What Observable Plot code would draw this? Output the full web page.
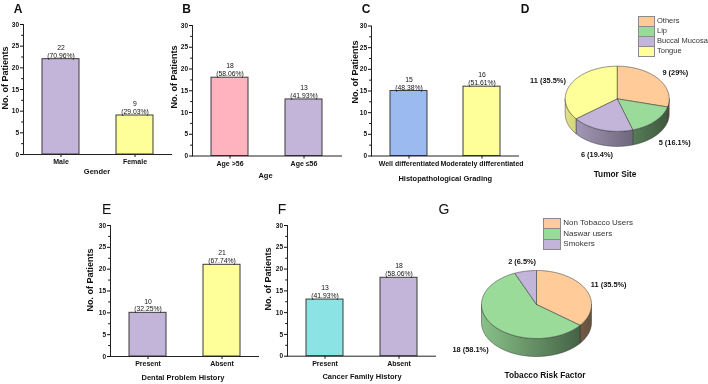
<!DOCTYPE html>
<html><head><meta charset="utf-8">
<script src="https://cdn.jsdelivr.net/npm/d3@7"></script>
<script src="https://cdn.jsdelivr.net/npm/@observablehq/plot@0.6"></script>
<style>
body{margin:0;background:#fff;font-family:"Liberation Sans",Arial,sans-serif;}
#root{position:relative;width:708px;height:384px;overflow:hidden;will-change:transform;-webkit-font-smoothing:antialiased;}
.abs{position:absolute;white-space:nowrap;color:#111;line-height:1;}
</style></head><body><div id="root"></div>
<script>
// ---------- data ----------
const genderCats = ["Male", "Female"];
const genderVals = [22, 9];
const genderPct = ["70.96%", "29.03%"];
const ageCats = ["Age >56", "Age ≤56"];
const ageVals = [18, 13];
const agePct = ["58.06%", "41.93%"];
const gradeCats = ["Well differentiated", "Moderately differentiated"];
const gradeVals = [15, 16];
const gradePct = ["48.38%", "51.61%"];
const dentalCats = ["Present", "Absent"];
const dentalVals = [10, 21];
const dentalPct = ["32.25%", "67.74%"];
const cancerCats = ["Present", "Absent"];
const cancerVals = [13, 18];
const cancerPct = ["41.93%", "58.06%"];
const tumorSites = ["Others", "Lip", "Buccal Mucosa", "Tongue"];
const tumorVals = [9, 5, 6, 11];
const tumorPct = ["29%", "16.1%", "19.4%", "35.5%"];
const tobaccoCats = ["Non Tobacco Users", "Naswar users", "Smokers"];
const tobaccoVals = [11, 18, 2];
const tobaccoPct = ["35.5%", "58.1%", "6.5%"];
const yTicks = [0, 5, 10, 15, 20, 25, 30];
const yMinorTicks = [2.5, 7.5, 12.5, 17.5, 22.5, 27.5];

// ---------- style ----------
const FONT = "Liberation Sans, Arial, sans-serif";
const C = {purple:"#C3B5DA", yellow:"#FFFF99", pink:"#FFB3BE", blue:"#9BBAF0", cyan:"#8CE3E3", orange:"#FFCC99", green:"#9ADB9A"};
const root = document.getElementById("root");

function addText(txt, x, y, css, rotate) {
  const d = document.createElement("div");
  d.className = "abs";
  d.textContent = txt;
  d.style.left = x + "px";
  d.style.top = y + "px";
  d.style.transform = "translate(-50%,-50%)" + (rotate ? " rotate(-90deg)" : "");
  Object.assign(d.style, css);
  root.appendChild(d);
}

function place(svg, L, T) {
  svg.style.position = "absolute";
  svg.style.left = L + "px";
  svg.style.top = T + "px";
  root.appendChild(svg);
}

function barPanel(cfg) {
  const {L, T, W, H, ax, ae, y30, y0, cats, vals, pct, colors} = cfg;
  const data = cats.map((c, i) => ({cat: c, val: vals[i], lab: `${vals[i]}\n(${pct[i]})`, color: colors[i]}));
  const svg = Plot.plot({
    width: W, height: H,
    marginLeft: ax - L, marginRight: L + W - ae, marginTop: y30 - T, marginBottom: T + H - y0,
    style: {fontFamily: FONT, fontSize: "7px", fontWeight: "bold", color: "#111", background: "transparent", overflow: "visible"},
    x: {domain: cats, paddingInner: 0.5, paddingOuter: 0.25},
    y: {domain: [0, 30]},
    color: {type: "identity"},
    marks: [
      Plot.barY(data, {x: "cat", y: "val", fill: "color", stroke: "#3a3a3a", strokeWidth: 1}),
      Plot.text(data, {x: "cat", y: "val", text: "lab", lineAnchor: "bottom", dy: -1.5, fontSize: 6.8, fontWeight: "normal", lineHeight: 1.15, fill: "#111"}),
      Plot.axisY({ticks: yTicks, tickSize: 3, tickPadding: 1.5, label: null, fontSize: 6.5, tickFormat: d => d}),
      Plot.axisY({ticks: yMinorTicks, tickSize: 1.8, label: null, tickFormat: () => ""}),
      Plot.axisX({tickSize: 3, tickPadding: 2, label: null, fontSize: 7}),
      Plot.frame({anchor: "left", stroke: "#222"}),
      Plot.frame({anchor: "bottom", stroke: "#222"})
    ]
  });
  place(svg, L, T);
}

function piePanel(cfg) {
  const {L, T, W, H, cx, cy, rx, ry, depth, cats, vals, pct, colors, id} = cfg;
  const total = d3.sum(vals);
  let acc = 0;
  const slices = cats.map((c, i) => {
    const a0 = acc / total * 2 * Math.PI; acc += vals[i];
    const a1 = acc / total * 2 * Math.PI;
    return {c, i, a0, a1, color: colors[i], label: `${vals[i]} (${pct[i]})`};
  });
  const dU = depth / ry;
  const step = Math.PI / 180;
  const top = [], side = [], labels = [];
  for (const s of slices) {
    const n = Math.max(2, Math.ceil((s.a1 - s.a0) / step));
    const pts = [[0, 0]];
    for (let k = 0; k <= n; k++) { const t = s.a0 + (s.a1 - s.a0) * k / n; pts.push([Math.sin(t), -Math.cos(t)]); }
    pts.push([0, 0]);
    pts.forEach(([x, y]) => top.push({x, y, key: s.c, fill: s.color}));
    const lo = Math.max(s.a0, Math.PI / 2), hi = Math.min(s.a1, 1.5 * Math.PI);
    if (hi > lo) {
      const m = Math.max(2, Math.ceil((hi - lo) / step));
      const arc = [];
      for (let k = 0; k <= m; k++) { const t = lo + (hi - lo) * k / m; arc.push([Math.sin(t), -Math.cos(t)]); }
      const poly = [...arc, ...arc.slice().reverse().map(([x, y]) => [x, y + dU]), arc[0]];
      poly.forEach(([x, y]) => side.push({x, y, key: s.c, fill: `url(#${id}-g${s.i})`}));
    }
    const mid = (s.a0 + s.a1) / 2, sx = Math.sin(mid), sy = -Math.cos(mid);
    const anchor = sx > 0.5 ? "start" : sx < -0.5 ? "end" : "middle";
    labels.push({x: anchor === "middle" ? 1.3 * sx : 1.1 * sx, y: 1.3 * sy + (sy > 0 ? dU : 0), text: s.label, anchor});
  }
  const lab = a => Plot.text(labels.filter(d => d.anchor === a), {x: "x", y: "y", text: "text", textAnchor: a, fontSize: 7.4, fontWeight: "bold", fill: "#111"});
  const svg = Plot.plot({
    width: W, height: H, margin: 0,
    style: {fontFamily: FONT, background: "transparent", overflow: "visible"},
    x: {domain: [-1, 1], range: [cx - rx, cx + rx], axis: null},
    y: {domain: [-1, 1], range: [cy - ry, cy + ry], axis: null},
    color: {type: "identity"},
    marks: [
      Plot.line(side, {x: "x", y: "y", z: "key", fill: "fill", stroke: "#333", strokeWidth: 0.5, curve: "linear"}),
      Plot.line(top, {x: "x", y: "y", z: "key", fill: "fill", stroke: "#444", strokeWidth: 0.6, curve: "linear"}),
      lab("start"), lab("end"), lab("middle")
    ]
  });
  const NS = "http://www.w3.org/2000/svg";
  const defs = document.createElementNS(NS, "defs");
  slices.forEach(s => {
    const g = document.createElementNS(NS, "linearGradient");
    g.setAttribute("id", `${id}-g${s.i}`);
    g.setAttribute("gradientUnits", "userSpaceOnUse");
    g.setAttribute("x1", cx - rx); g.setAttribute("x2", cx + rx);
    g.setAttribute("y1", 0); g.setAttribute("y2", 0);
    [[0, 0.35], [1, 2.6]].forEach(([o, k]) => {
      const st = document.createElementNS(NS, "stop");
      st.setAttribute("offset", o);
      st.setAttribute("stop-color", d3.color(s.color).darker(k).formatHex());
      g.appendChild(st);
    });
    defs.appendChild(g);
  });
  svg.insertBefore(defs, svg.firstChild);
  place(svg, L, T);
}

function legend(x, y, w, h, cats, colors, fs) {
  cats.forEach((c, i) => {
    const b = document.createElement("div");
    Object.assign(b.style, {position: "absolute", left: x + "px", top: (y + i * (h - 1)) + "px", width: w + "px", height: h + "px",
      background: colors[i], border: "1px solid #8a8a8a", boxSizing: "border-box"});
    root.appendChild(b);
    const t = document.createElement("div");
    t.className = "abs";
    t.textContent = c;
    Object.assign(t.style, {left: (x + w + 2.5) + "px", top: (y + i * (h - 1) + h / 2) + "px", transform: "translateY(-50%)",
      fontSize: fs + "px", color: "#333"});
    root.appendChild(t);
  });
}

// ---------- bar panels ----------
barPanel({L: 0, T: 0, W: 180, H: 190, ax: 23, ae: 171, y30: 24, y0: 154, cats: genderCats, vals: genderVals, pct: genderPct, colors: [C.purple, C.yellow]});
barPanel({L: 176, T: 0, W: 170, H: 190, ax: 192, ae: 341, y30: 25, y0: 155.5, cats: ageCats, vals: ageVals, pct: agePct, colors: [C.pink, C.purple]});
barPanel({L: 346, T: 0, W: 176, H: 190, ax: 371, ae: 518, y30: 25.5, y0: 155.5, cats: gradeCats, vals: gradeVals, pct: gradePct, colors: [C.blue, C.yellow]});
barPanel({L: 80, T: 190, W: 182, H: 190, ax: 110, ae: 258, y30: 225, y0: 356, cats: dentalCats, vals: dentalVals, pct: dentalPct, colors: [C.purple, C.yellow]});
barPanel({L: 262, T: 190, W: 178, H: 190, ax: 287, ae: 435, y30: 225, y0: 355.7, cats: cancerCats, vals: cancerVals, pct: cancerPct, colors: [C.cyan, C.purple]});

// ---------- pie panels ----------
piePanel({L: 520, T: 0, W: 188, H: 190, cx: 96.7, cy: 98.3, rx: 52, ry: 32.6, depth: 15, cats: tumorSites, vals: tumorVals, pct: tumorPct,
  colors: [C.orange, C.green, C.purple, C.yellow], id: "pieD"});
piePanel({L: 430, T: 190, W: 278, H: 194, cx: 106, cy: 114, rx: 55, ry: 34, depth: 18, cats: tobaccoCats, vals: tobaccoVals, pct: tobaccoPct,
  colors: [C.orange, C.green, C.purple], id: "pieG"});

legend(638, 15.7, 16.5, 11, tumorSites, [C.orange, C.green, C.purple, C.yellow], 7.5);
legend(543.3, 217.7, 17.5, 11.5, tobaccoCats, [C.orange, C.green, C.purple], 8);

// ---------- texts ----------
const bold = fs => ({fontSize: fs + "px", fontWeight: "bold", fontFamily: FONT});
const reg = fs => ({fontSize: fs + "px", fontWeight: "normal", fontFamily: FONT});
[["A", 18, 8.5], ["B", 186.7, 8.5], ["C", 366, 9], ["D", 525, 9]].forEach(([t, x, y]) => addText(t, x, y, bold(12)));
[["E", 106.7, 208.7], ["F", 282, 208.7], ["G", 444, 208.7]].forEach(([t, x, y]) => addText(t, x, y, reg(14)));
[[5, 78], [174, 77], [355, 72], [89.7, 280], [267.7, 279]].forEach(([x, y]) => addText("No. of Patients", x, y, bold(9), true));
addText("Gender", 97, 172.3, bold(7.5));
addText("Age", 265.5, 175.7, bold(7.5));
addText("Histopathological Grading", 445.3, 179, bold(7.5));
addText("Dental Problem History", 183, 377.7, bold(7.5));
addText("Cancer Family History", 362, 377, bold(7.5));
addText("Tumor Site", 615, 174, bold(8.3));
addText("Tobacco Risk Factor", 545, 375, bold(8.3));
</script></body></html>
